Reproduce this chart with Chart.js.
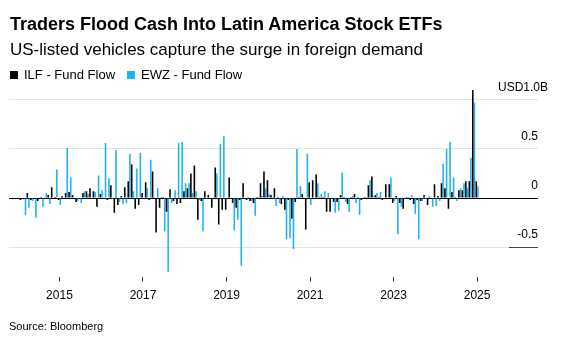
<!DOCTYPE html>
<html>
<head>
<meta charset="utf-8">
<script src="https://cdn.jsdelivr.net/npm/chart.js@4.4.1/dist/chart.umd.min.js"></script>
<style>
  html, body { margin: 0; padding: 0; background: #fff; }
  body { width: 562px; height: 340px; position: relative; overflow: hidden;
         font-family: 'Liberation Sans', Arial, sans-serif; color: #000; }
  #chart { position: absolute; left: 0; top: 0; }
  .txt { position: absolute; left: 10px; white-space: nowrap; }
  #title { top: 15px; font-size: 18px; line-height: 18px; font-weight: bold; }
  #subtitle { top: 41px; font-size: 17px; line-height: 17px; }
  #legend { top: 68px; font-size: 13px; line-height: 13px; display: flex; align-items: center; }
  #legend .item { display: flex; align-items: center; margin-right: 12px; }
  #legend .sw { display: inline-block; width: 8px; height: 8px; margin-right: 6px; }
  #source { top: 321px; left: 9px; font-size: 11px; line-height: 11px; }
</style>
</head>
<body>
<canvas id="chart" width="562" height="340"></canvas>
<div class="txt" id="title">Traders Flood Cash Into Latin America Stock ETFs</div>
<div class="txt" id="subtitle">US-listed vehicles capture the surge in foreign demand</div>
<div class="txt" id="legend"></div>
<div class="txt" id="source">Source: Bloomberg</div>
<script>
// monthly fund flows, USD billions, Feb 2014 .. Jan 2025
const seriesNames = ['ILF - Fund Flow', 'EWZ - Fund Flow'];
const seriesColors = ['#000000', '#1eb2f0'];

const ilfFlow = [
  -0.02, 0, 0.05, -0.02, 0, -0.03, 0.01, 0, 0.03, 0.11, 0.01,            // 2014
  -0.02, 0.02, 0.05, 0.06, 0.03, -0.04, 0, 0.05, 0.07, 0.1, 0.07, -0.09,  // 2015
  0.04, 0, -0.02, 0.13, -0.15, -0.07, 0.02, 0.11, 0.17, 0.34, -0.11, -0.07, // 2016
  0.05, 0.16, -0.02, 0.27, -0.35, -0.1, 0.01, -0.14, 0.09, -0.03, -0.06, -0.05, // 2017
  0.07, 0.1, 0.25, 0.33, -0.22, -0.03, 0.07, 0.03, -0.1, 0.31, -0.27, -0.12, // 2018
  -0.12, 0.21, -0.05, -0.1, -0.02, 0.15, -0.02, -0.03, -0.05, 0.01, 0.15, 0.27, // 2019
  0.18, 0.03, 0.1, 0.01, -0.06, -0.12, -0.02, -0.21, -0.04, 0.01, 0.04, -0.32, // 2020
  0.16, 0.18, 0.24, 0.01, 0.01, -0.14, -0.14, -0.04, -0.04, 0.03, 0.01, -0.06, // 2021
  0.01, 0.04, 0.01, -0.02, 0.01, 0.13, 0.22, 0.03, 0.01, -0.02, 0.14, 0.14, // 2022
  -0.05, 0.02, -0.05, -0.11, 0.01, -0.02, -0.06, -0.02, -0.03, 0.03, -0.07, -0.01, // 2023
  0.14, 0.02, 0.15, 0.1, -0.11, 0.06, 0.01, 0.08, 0.08, 0.17, 0.17, 1.1,  // 2024
  0.17                                                                   // 2025
];

const ewzFlow = [
  0, -0.17, -0.1, -0.03, -0.2, 0, -0.09, 0.05, -0.06, 0, 0.29,
  -0.07, 0, 0.51, 0.21, 0, -0.03, -0.05, 0.07, 0.04, 0, 0.06, 0.23,
  0.08, 0.56, 0.2, -0.01, 0.49, -0.04, -0.06, -0.05, 0.45, 0.07, 0.3, 0.46,
  0, 0.1, 0.39, 0.01, 0.1, 0.01, -0.34, -0.75, -0.05, 0.08, 0.56, 0.57,
  0.15, 0.15, 0.05, 0.07, -0.02, -0.34, -0.01, 0, 0, 0.25, 0.55, 0.63,
  0, 0, -0.33, -0.22, -0.69, 0, 0.01, -0.03, -0.18, 0.01, 0.02, 0.1,
  0.04, 0.01, -0.08, -0.05, 0.02, -0.42, -0.41, -0.52, 0.5, 0.12, 0.01, 0.45,
  -0.07, 0, 0.15, 0.04, 0.07, 0.05, 0, -0.15, -0.13, 0.26, -0.04, -0.14,
  0.02, -0.05, -0.17, 0.01, 0.01, 0.18, 0.02, 0.05, 0.06, 0, 0, 0.21,
  -0.03, -0.37, -0.09, 0, 0.01, 0.03, -0.16, -0.42, -0.03, -0.01, 0.02, -0.09,
  -0.08, -0.03, 0.35, 0.5, 0.57, 0.21, -0.03, 0.1, 0.15, 0.1, 0.41, 0.97,
  0.12
];

const yearTicks = ['2015', '2017', '2019', '2021', '2023', '2025'];
const yTicks = [-0.5, 0, 0.5, 1.0];
const unitTick = 1.0;

// x axis runs Nov 2013 .. Jun 2026, data starts Feb 2014
const axisStart = [2013, 11];
const axisMonths = 152;
const dataOffset = 3;

const months = [];
for (let i = 0; i < axisMonths; i++) {
  const m = axisStart[1] - 1 + i;
  const yy = axisStart[0] + Math.floor(m / 12);
  const mm = (m % 12) + 1;
  months.push(yy + '-' + (mm < 10 ? '0' : '') + mm);
}

function pad(arr) {
  return new Array(dataOffset).fill(null).concat(arr);
}

function yearAt(label) {
  const parts = label.split('-');
  return (parts[1] === '01' && yearTicks.includes(parts[0])) ? parts[0] : '';
}

// legend
const legendEl = document.getElementById('legend');
seriesNames.forEach((n, i) => {
  const it = document.createElement('span');
  it.className = 'item';
  it.innerHTML = '<span class="sw" style="background:' + seriesColors[i] + '"></span>' + n;
  legendEl.appendChild(it);
});

const minLabelRule = {
  id: 'minLabelRule',
  afterDraw(chart) {
    const {ctx, chartArea, scales} = chart;
    const py = Math.round(scales.y.getPixelForValue(yTicks[0])) + 0.5;
    ctx.save();
    ctx.strokeStyle = '#444';
    ctx.lineWidth = 1;
    ctx.beginPath();
    ctx.moveTo(chartArea.right - 29, py);
    ctx.lineTo(chartArea.right, py);
    ctx.stroke();
    ctx.restore();
  }
};

const font = { family: "'Liberation Sans', Arial, sans-serif", size: 12 };

new Chart(document.getElementById('chart'), {
  type: 'bar',
  data: {
    labels: months,
    datasets: [
      { label: seriesNames[0], data: pad(ilfFlow), backgroundColor: seriesColors[0],
        barPercentage: 0.95, categoryPercentage: 0.95 },
      { label: seriesNames[1], data: pad(ewzFlow), backgroundColor: seriesColors[1],
        barPercentage: 0.95, categoryPercentage: 0.95 }
    ]
  },
  options: {
    responsive: false,
    animation: false,
    layout: { padding: { left: 9, right: 4, top: 88, bottom: 30 } },
    plugins: { legend: { display: false }, tooltip: { enabled: false } },
    scales: {
      x: {
        border: { display: false },
        grid: {
          drawOnChartArea: false,
          offset: false,
          tickLength: 5,
          color: (c) => (c.tick && yearAt(months[c.index] || '')) ? '#333' : 'rgba(0,0,0,0)'
        },
        ticks: {
          autoSkip: false,
          maxRotation: 0,
          padding: 7,
          color: '#000',
          font: font,
          callback: function (v) { return yearAt(this.getLabelForValue(v)); }
        }
      },
      y: {
        position: 'right',
        min: -0.8,
        max: 1.12,
        border: { display: false },
        grid: {
          drawTicks: false,
          color: (c) => (c.tick && c.tick.value === 0) ? '#000' : '#e3e3e3'
        },
        afterBuildTicks: (s) => { s.ticks = yTicks.map(v => ({ value: v })); },
        ticks: {
          mirror: true,
          padding: 0,
          labelOffset: -12,
          color: '#000',
          font: font,
          callback: (v) => v === unitTick ? '' : (v === 0 ? '0' : v.toFixed(1))
        }
      },
      // top label carries the unit and hangs past the grid, as in the original
      yUnit: {
        position: 'right',
        min: -0.8,
        max: 1.12,
        border: { display: false },
        grid: { display: false, drawTicks: false },
        afterBuildTicks: (s) => { s.ticks = [{ value: unitTick }]; },
        ticks: {
          mirror: true,
          padding: 10,
          labelOffset: -12,
          color: '#000',
          font: font,
          callback: () => 'USD1.0B'
        }
      }
    }
  },
  plugins: [minLabelRule]
});
</script>
</body>
</html>
